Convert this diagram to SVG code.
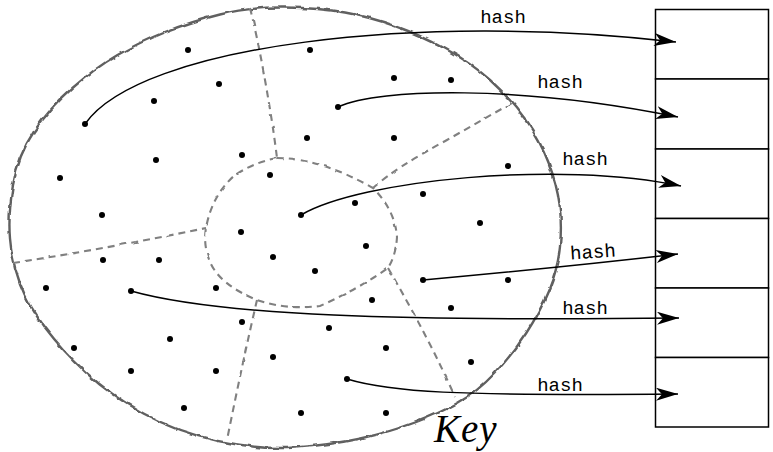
<svg xmlns="http://www.w3.org/2000/svg" width="773" height="452" viewBox="0 0 773 452">
<style>
.outline{fill:none;stroke:#606060;stroke-width:2.4;stroke-linejoin:round}
.part{fill:none;stroke:#808080;stroke-width:2.1;stroke-dasharray:7 5}
.dot{fill:#000}
.conn{fill:none;stroke:#000;stroke-width:1.5}
.cell{fill:#fff;stroke:#000;stroke-width:1.5}
.lbl{font-family:"Liberation Mono","Courier New",monospace;font-size:19px;fill:#000;text-anchor:middle}
.key{font-family:"Liberation Serif","Times New Roman",serif;font-style:italic;font-size:39px;fill:#000;letter-spacing:1px}
</style>
<defs>
<filter id="rough" x="-5%" y="-5%" width="110%" height="110%">
<feTurbulence type="fractalNoise" baseFrequency="0.09" numOctaves="2" seed="4" result="n"/>
<feDisplacementMap in="SourceGraphic" in2="n" scale="4" xChannelSelector="R" yChannelSelector="G"/>
</filter>
<filter id="rough2" x="-5%" y="-5%" width="110%" height="110%">
<feTurbulence type="fractalNoise" baseFrequency="0.1" numOctaves="1" seed="7" result="n"/>
<feDisplacementMap in="SourceGraphic" in2="n" scale="2.5" xChannelSelector="R" yChannelSelector="G"/>
</filter>
<marker id="arr" viewBox="0 0 22 13" refX="22" refY="6.5" markerWidth="22" markerHeight="13" markerUnits="userSpaceOnUse" orient="auto">
<path d="M0,0 L22,6.5 L0,13 L6,6.5 Z" fill="#000"/>
</marker>
</defs>

<g id="key-space">
<path class="outline" filter="url(#rough)" d="M285,7.5 Q320,8 345,12.5 Q370,17 395,26 Q420,35 445,48.5 Q470,62 490,80 Q510,98 525,119 Q540,140 548.5,162.5 Q557,185 559.5,205 Q562,225 560,246.5 Q558,268 549,290 Q540,312 526,333.5 Q512,355 494.5,373.5 Q477,392 458.5,402.5 Q440,413 415,422.5 Q390,432 360,438.5 Q330,445 295,447.5 Q260,450 218.5,441 Q177,432 143.5,413.5 Q110,395 86,372.5 Q62,350 45,327.5 Q28,305 20,283.5 Q12,262 10,238.5 Q8,215 13,185 Q18,155 34,131.5 Q50,108 72.5,88 Q95,68 117.5,55 Q140,42 165,32 Q190,22 220,14.5 Q250,7 285,7.5 Z"/>
<g id="partitions" filter="url(#rough2)">
<path class="part" d="M277,158 Q320,158 373,188 Q395,210 397,237 Q396,255 388,268 Q360,288 320,306 Q285,310 257,300 Q220,285 210,262 Q203,245 206,228 Q212,195 235,175 Q255,162 277,158"/>
<path class="part" d="M250,8 Q258,40 265,80 Q273,125 277,158"/>
<path class="part" d="M373,188 Q395,168 447,140 L512,103"/>
<path class="part" d="M13,263 Q110,248 206,228"/>
<path class="part" d="M257,300 Q243,360 227,440"/>
<path class="part" d="M388,268 Q430,340 455,397"/>
</g>
<text class="key" x="434" y="442">Key</text>
</g>

<g id="keys">
<circle class="dot" cx="188" cy="50" r="3"/><circle class="dot" cx="310" cy="50" r="3"/>
<circle class="dot" cx="394" cy="78" r="3"/><circle class="dot" cx="451" cy="80" r="3"/>
<circle class="dot" cx="154" cy="101" r="3"/><circle class="dot" cx="219" cy="84" r="3"/>
<circle class="dot" cx="307" cy="138" r="3"/><circle class="dot" cx="394" cy="138" r="3"/>
<circle class="dot" cx="156" cy="160" r="3"/><circle class="dot" cx="242" cy="155" r="3"/>
<circle class="dot" cx="270" cy="175" r="3"/><circle class="dot" cx="60" cy="178" r="3"/>
<circle class="dot" cx="508" cy="166" r="3"/><circle class="dot" cx="355" cy="203" r="3"/>
<circle class="dot" cx="423" cy="194" r="3"/><circle class="dot" cx="102" cy="215" r="3"/>
<circle class="dot" cx="480" cy="223" r="3"/><circle class="dot" cx="241" cy="232" r="3"/>
<circle class="dot" cx="366" cy="246" r="3"/><circle class="dot" cx="273" cy="257" r="3"/>
<circle class="dot" cx="315" cy="271" r="3"/><circle class="dot" cx="103" cy="260" r="3"/>
<circle class="dot" cx="159" cy="260" r="3"/><circle class="dot" cx="216" cy="288" r="3"/>
<circle class="dot" cx="46" cy="288" r="3"/><circle class="dot" cx="508" cy="280" r="3"/>
<circle class="dot" cx="372" cy="300" r="3"/><circle class="dot" cx="451" cy="308" r="3"/>
<circle class="dot" cx="242" cy="322" r="3"/><circle class="dot" cx="329" cy="328" r="3"/>
<circle class="dot" cx="170" cy="339" r="3"/><circle class="dot" cx="74" cy="348" r="3"/>
<circle class="dot" cx="386" cy="348" r="3"/><circle class="dot" cx="273" cy="357" r="3"/>
<circle class="dot" cx="471" cy="362" r="3"/><circle class="dot" cx="131" cy="371" r="3"/>
<circle class="dot" cx="216" cy="371" r="3"/><circle class="dot" cx="184" cy="408" r="3"/>
<circle class="dot" cx="301" cy="413" r="3"/><circle class="dot" cx="386" cy="413" r="3"/>
</g>
<g id="key1"><circle class="dot" cx="85" cy="124" r="3"/></g>
<g id="key2"><circle class="dot" cx="338" cy="107" r="3"/></g>
<g id="key3"><circle class="dot" cx="301" cy="215" r="3"/></g>
<g id="key4"><circle class="dot" cx="423" cy="280" r="3"/></g>
<g id="key5"><circle class="dot" cx="131" cy="291" r="3"/></g>
<g id="key6"><circle class="dot" cx="347" cy="379" r="3"/></g>

<g id="table">
<g id="bucket1"><rect class="cell" x="655.5" y="9.5" width="113" height="69.5"/></g>
<g id="bucket2"><rect class="cell" x="655.5" y="79" width="113" height="70"/></g>
<g id="bucket3"><rect class="cell" x="655.5" y="149" width="113" height="69.5"/></g>
<g id="bucket4"><rect class="cell" x="655.5" y="218.5" width="113" height="69.5"/></g>
<g id="bucket5"><rect class="cell" x="655.5" y="288" width="113" height="69.5"/></g>
<g id="bucket6"><rect class="cell" x="655.5" y="357.5" width="113" height="69.5"/></g>
</g>

<g id="connectors">
<path class="conn" marker-end="url(#arr)" d="M85,124 C140,45 420,12 676,42"/>
<path class="conn" marker-end="url(#arr)" d="M338,107 C380,88 520,85 678,117"/>
<path class="conn" marker-end="url(#arr)" d="M301,215 C360,180 560,160 681,186"/>
<path class="conn" marker-end="url(#arr)" d="M423,280 C500,273 600,263 678,254"/>
<path class="conn" marker-end="url(#arr)" d="M131,291 C220,316 400,321 679,318"/>
<path class="conn" marker-end="url(#arr)" d="M347,379 C390,392 450,396 678,394"/>
<text class="lbl" x="503" y="23">hash</text>
<text class="lbl" x="560" y="88">hash</text>
<text class="lbl" x="585" y="165">hash</text>
<text class="lbl" x="593" y="258" transform="rotate(-4 593 254)">hash</text>
<text class="lbl" x="585" y="314">hash</text>
<text class="lbl" x="560" y="391">hash</text>
</g>
</svg>
